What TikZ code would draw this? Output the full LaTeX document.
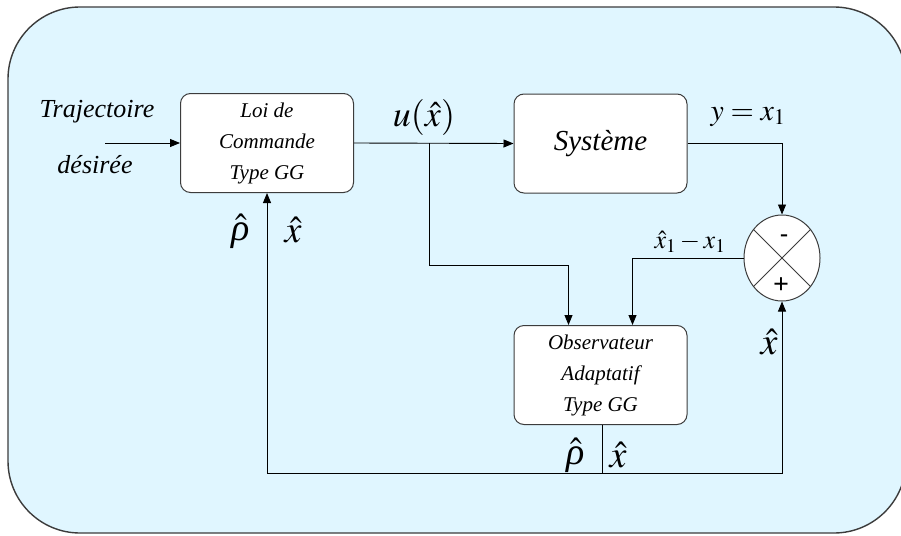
\documentclass[tikz,border=0pt]{standalone}
\usepackage{mathptmx}
\usepackage[no-math]{fontspec}
\setmainfont{Liberation Serif}
\usetikzlibrary{arrows.meta,shapes.geometric}
\definecolor{bgblue}{RGB}{224,246,255}
\definecolor{edge}{RGB}{60,60,60}
\newcommand{\myrho}{\mbox{\itshape ρ}}
\tikzset{
  blk/.style={draw=edge, line width=1pt, fill=white, rounded corners=10pt, minimum width=173pt, minimum height=99pt, inner sep=0pt, align=center},
  conn/.style={line width=0.9pt, draw=black},
  arr/.style={conn, -{Triangle[length=10pt,width=8pt]}},
  lbl/.style={inner sep=0pt, font=\fontsize{26}{28}\selectfont\itshape},
  boxtxt/.style={font=\fontsize{21}{31}\selectfont\itshape},
  mlbl/.style={inner sep=0pt, font=\fontsize{38}{40}\selectfont}
}
\begin{document}
\begin{tikzpicture}[x=1pt,y=-1pt]
\useasboundingbox (0,0) rectangle (901,535);
\begin{scope}
\clip (0,0) rectangle (901,535);
\draw[draw=edge, line width=1.4pt, fill=bgblue, rounded corners=72pt] (8,7) rectangle (906,533);
\end{scope}
% blocks
\node[blk, boxtxt] (loi) at (267,143) {Loi de\\Commande\\Type GG};
\node[blk, font=\fontsize{29}{32}\selectfont\itshape] (sys) at (600.5,143.5) {Système};
\node[blk, boxtxt] (obs) at (600.5,375) {Observateur\\Adaptatif\\Type GG};
\node[draw=edge, line width=1pt, fill=white, ellipse, minimum width=76pt, minimum height=86pt, inner sep=0pt] (sum) at (782,258) {};
\draw[draw=edge, line width=0.8pt] (sum.45) -- (sum.225) (sum.135) -- (sum.315);
\node[inner sep=0pt, font=\fontsize{24}{24}\selectfont\bfseries] (minus) at (784,238) {-};
\node[inner sep=0pt, font=\fontsize{28}{28}\selectfont\bfseries] (plus) at (781,286) {+};
% input
\node[lbl] (traj) at (97,112) {Trajectoire};
\node[lbl] (des) at (95,165) {désirée};
\coordinate (in) at (105,143);
\draw[arr] (in) -- (loi.west);
% main path
\draw[arr] (loi.east) -- (sys.west);
\coordinate (br) at (429,143);
\coordinate (hl) at (429,265);
\draw[arr] (br) -- (hl) -| ([xshift=-32pt]obs.north);
\draw[arr] (sys.east) -| (sum.north);
\draw[arr] (sum.west) -| ([xshift=32pt]obs.north);
% feedback
\coordinate (ob) at ([xshift=1.5pt]obs.south);
\coordinate (bot) at (602,473);
\draw[conn] (ob) -- (bot);
\draw[arr] (bot) -| (sum.south);
\draw[arr] (bot) -| (loi.south);
% math labels
\node[mlbl, font=\fontsize{36}{38}\selectfont] (u) at (424,117) {$u(\hat{x})$};
\node[mlbl, font=\fontsize{30}{32}\selectfont] (y) at (748,117) {$y=x_1$};
\node[mlbl, font=\fontsize{26}{28}\selectfont] (err) at (690,242) {$\hat{x}_1-x_1$};
\node[mlbl] (rho1) at (241,231) {$\hat{\myrho}$};
\node[mlbl] (xh1) at (293,230) {$\hat{x}$};
\node[mlbl] (xh2) at (769,342) {$\hat{x}$};
\node[mlbl] (rho2) at (576,455) {$\hat{\myrho}$};
\node[mlbl] (xh3) at (618,455) {$\hat{x}$};
\end{tikzpicture}
\end{document}
